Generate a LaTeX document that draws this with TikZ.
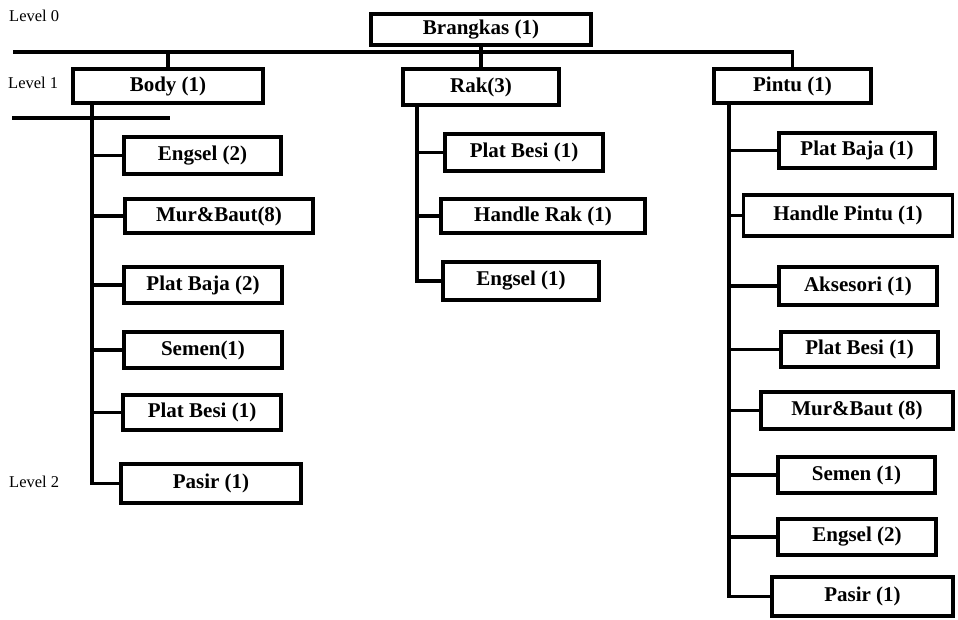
\documentclass[tikz,border=0pt]{standalone}
\usepackage{fontspec}
\setmainfont{Liberation Serif}
\begin{document}
\begin{tikzpicture}[x=1pt,y=-1pt,
  box/.style={draw=black, line width=3.8pt, fill=white, inner sep=0pt,
    font=\fontsize{21}{25}\selectfont\bfseries},
  conn/.style={draw=black, line width=3.5pt},
  lvl/.style={anchor=west, inner sep=0pt, font=\fontsize{16.5}{19}\selectfont}]
\useasboundingbox (0,0) rectangle (958,620);
% level labels
\node[lvl] (lv0) at (9,16) {Level 0};
\node[lvl] (lv1) at (8,83) {Level 1};
\node[lvl] (lv2) at (9,482) {Level 2};
% root and level 1
\node[box, minimum width=220, minimum height=31] (brangkas) at (481,29.5) {Brangkas (1)};
\node[box, minimum width=190, minimum height=34] (body) at (168,86) {Body (1)};
\node[box, minimum width=156, minimum height=36] (rak) at (481,87) {Rak(3)};
\node[box, minimum width=157, minimum height=34] (pintu) at (792.5,86) {Pintu (1)};
% body children
\node[box, minimum width=157, minimum height=37] (b1) at (202.5,155.5) {Engsel (2)};
\node[box, minimum width=188, minimum height=34] (b2) at (219,216) {Mur\&Baut(8)};
\node[box, minimum width=158, minimum height=36] (b3) at (203,285) {Plat Baja (2)};
\node[box, minimum width=158, minimum height=36] (b4) at (203,350) {Semen(1)};
\node[box, minimum width=158, minimum height=35] (b5) at (202,412.5) {Plat Besi (1)};
\node[box, minimum width=180, minimum height=39] (b6) at (211,483.5) {Pasir (1)};
% rak children
\node[box, minimum width=158, minimum height=37] (r1) at (524,152.5) {Plat Besi (1)};
\node[box, minimum width=204, minimum height=34] (r2) at (543,216) {Handle Rak (1)};
\node[box, minimum width=156, minimum height=38] (r3) at (521,281) {Engsel (1)};
% pintu children
\node[box, minimum width=156, minimum height=35] (p1) at (857,150.5) {Plat Baja (1)};
\node[box, minimum width=209, minimum height=41] (p2) at (848,215.5) {Handle Pintu (1)};
\node[box, minimum width=158, minimum height=38] (p3) at (858,286) {Aksesori (1)};
\node[box, minimum width=157, minimum height=35] (p4) at (859.5,349.5) {Plat Besi (1)};
\node[box, minimum width=192, minimum height=37] (p5) at (857,410.5) {Mur\&Baut (8)};
\node[box, minimum width=157, minimum height=36] (p6) at (856.5,475) {Semen (1)};
\node[box, minimum width=158, minimum height=36] (p7) at (857,537) {Engsel (2)};
\node[box, minimum width=181, minimum height=39] (p8) at (862.5,596.5) {Pasir (1)};
% coordinates
\coordinate (lineL) at (13,52);
\coordinate (l2a) at (12,118);
\coordinate (l2b) at (170,118);
\coordinate (btrunk) at (92,0);
\coordinate (rtrunk) at (417,0);
\coordinate (ptrunk) at (729,0);
% level 0 -> level 1
\draw[conn] (lineL) -| (pintu.north);
\draw[conn] (brangkas.south) -- (rak.north);
\draw[conn] (body.north |- lineL) -- (body.north);
\draw[conn] (l2a) -- (l2b);
% body trunk
\draw[conn] (body.south -| btrunk) |- (b6.west);
\foreach \n in {b1,b2,b3,b4,b5} \draw[conn] (\n.west -| btrunk) -- (\n.west);
% rak trunk
\draw[conn] (rak.south -| rtrunk) |- (r3.west);
\foreach \n in {r1,r2} \draw[conn] (\n.west -| rtrunk) -- (\n.west);
% pintu trunk
\draw[conn] (pintu.south -| ptrunk) |- (p8.west);
\foreach \n in {p1,p2,p3,p4,p5,p6,p7} \draw[conn] (\n.west -| ptrunk) -- (\n.west);
\end{tikzpicture}
\end{document}
